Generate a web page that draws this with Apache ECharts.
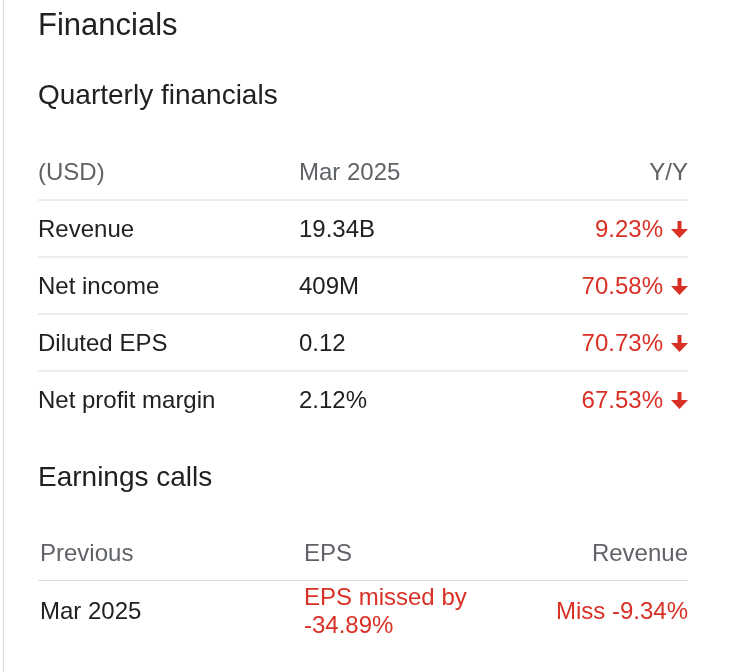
<!DOCTYPE html>
<html lang="en">

<head>
  <meta charset="UTF-8">
  <title>Financials</title>
  <script src="https://cdn.jsdelivr.net/npm/echarts@6/dist/echarts.min.js"></script>
  <style>
    html, body { margin: 0; padding: 0; background: #fff; }
  </style>
</head>

<body>
  <div id="chart" style="width: 745px; height: 672px"></div>

  <script>
    // quarterly table
    let quarterHead = ['(USD)', 'Mar 2025', 'Y/Y']
    let metrics = ['Revenue', 'Net income', 'Diluted EPS', 'Net profit margin']
    let values = ['19.34B', '409M', '0.12', '2.12%']
    let yoy = ['9.23%', '70.58%', '70.73%', '67.53%']
    // earnings calls table
    let callsHead = ['Previous', 'EPS', 'Revenue']
    let callPeriods = ['Mar 2025']
    let callEps = ['EPS missed by\n-34.89%']
    let callRevenue = ['Miss -9.34%']

    const font = '"Liberation Sans", Arial, sans-serif'
    const dark = '#202124'
    const grey = '#5f6368'
    const red = '#d93025'
    const rule = '#dadce0'
    const left = 38, mid = 299, right = 688
    const dy = 2 // nudge so text sits like the original

    let dom = document.getElementById('chart')
    let myECharts = echarts.init(dom)

    function text(x, y, str, size, color, align) {
      return {
        type: 'text', x: x, y: y + dy,
        style: {
          text: str, fontSize: size, fill: color, fontFamily: font,
          align: align || 'left', verticalAlign: 'middle', lineHeight: 28
        }
      }
    }
    function hline(y, x1, x2) {
      return {
        type: 'line',
        shape: { x1: x1, y1: y, x2: x2, y2: y },
        style: { stroke: rule, lineWidth: 1 }
      }
    }
    // down arrow, right edge at xr, centred on y
    function arrow(xr, y) {
      return {
        type: 'polygon',
        shape: {
          points: [[xr - 10.5, y - 8], [xr - 6.5, y - 8], [xr - 6.5, y], [xr, y],
            [xr - 8.5, y + 9], [xr - 17, y], [xr - 10.5, y]]
        },
        style: { fill: red }
      }
    }

    let els = []
    // left border of the card
    els.push({ type: 'line', shape: { x1: 3.5, y1: 0, x2: 3.5, y2: 672 }, style: { stroke: rule, lineWidth: 1 } })

    els.push(text(left, 24, 'Financials', 31, dark))
    els.push(text(left, 94, 'Quarterly financials', 28, dark))

    // quarterly header
    let headY = 171, pitch = 57
    els.push(text(left, headY, quarterHead[0], 24, grey))
    els.push(text(mid, headY, quarterHead[1], 24, grey))
    els.push(text(right, headY, quarterHead[2], 24, grey, 'right'))

    metrics.forEach(function (m, i) {
      let y = headY + pitch * (i + 1)
      els.push(hline(y - pitch / 2 + 0.5, left, right))
      els.push(text(left, y, m, 24, dark))
      els.push(text(mid, y, values[i], 24, dark))
      els.push(text(right - 25, y, yoy[i], 24, red, 'right'))
      els.push(arrow(right, y + 1))
    })

    els.push(text(left, 476, 'Earnings calls', 28, dark))

    // earnings calls table
    let callHeadY = 552
    els.push(text(left + 2, callHeadY, callsHead[0], 24, grey))
    els.push(text(mid + 5, callHeadY, callsHead[1], 24, grey))
    els.push(text(right, callHeadY, callsHead[2], 24, grey, 'right'))
    callPeriods.forEach(function (p, i) {
      let y = callHeadY + 58 * (i + 1)
      els.push(hline(y - 29.5, left, right))
      els.push(text(left + 2, y, p, 24, dark))
      els.push(text(mid + 5, y, callEps[i], 24, red))
      els.push(text(right, y, callRevenue[i], 24, red, 'right'))
    })

    let option = {
      backgroundColor: '#fff',
      animation: false,
      graphic: { elements: els }
    }
    myECharts.setOption(option)
  </script>
</body>

</html>
